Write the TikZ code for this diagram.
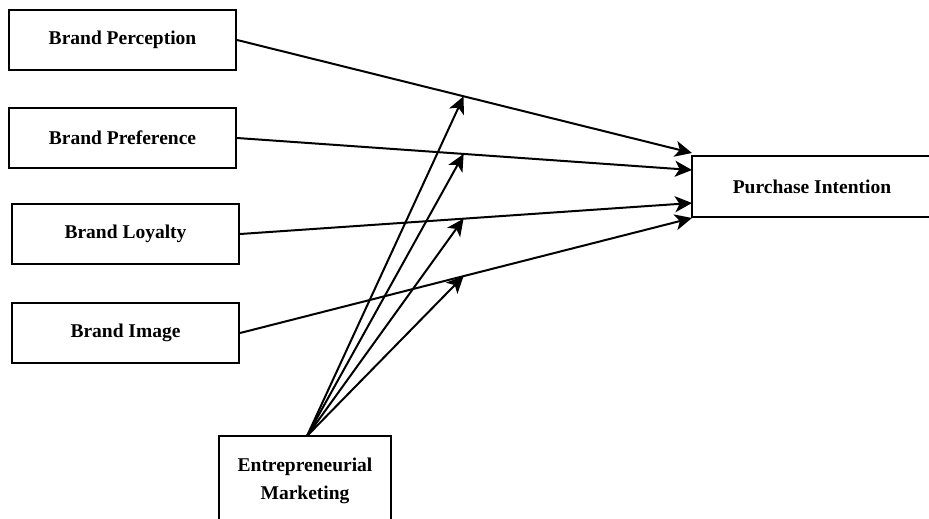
\documentclass[tikz,border=0pt]{standalone}
\usepackage{fontspec}
\setmainfont{Liberation Serif}
\usetikzlibrary{arrows.meta}
\begin{document}
\begin{tikzpicture}[x=1pt,y=-1pt,
  box/.style={draw,line width=2.2pt,inner sep=0pt,font=\fontsize{19.5}{24}\selectfont\bfseries,align=center},
  conn/.style={line width=2pt,-{Stealth[length=17pt,width=16pt,inset=4.5pt]}}]
\useasboundingbox (0,0) rectangle (929,519);
\node[box,minimum width=227pt,minimum height=60pt] (bp) at (122.5,40) {Brand Perception};
\node[box,minimum width=227pt,minimum height=60pt] (bf) at (122.5,138) {Brand Preference};
\node[box,minimum width=227pt,minimum height=60pt] (bl) at (125.5,234) {Brand Loyalty};
\node[box,minimum width=227pt,minimum height=60pt] (bi) at (125.5,333) {Brand Image};
\node[box,minimum width=240pt,minimum height=61pt] (pi) at (812,186.5) {Purchase Intention};
\node[box,minimum width=172pt,minimum height=100pt,text depth=0pt] (em) at (305,486) {};
\node[font=\fontsize{19.5}{28}\selectfont\bfseries,align=center] (emt) at (305,481) {Entrepreneurial\\Marketing};
\coordinate (t1) at (692,153);
\coordinate (t2) at (692,170);
\coordinate (t3) at (692,203);
\coordinate (t4) at (692,218);
\draw[conn] (bp.east) -- (t1) coordinate[pos=0.498] (m1);
\draw[conn] (bf.east) -- (t2) coordinate[pos=0.498] (m2);
\draw[conn] (bl.east) -- (t3) coordinate[pos=0.4945] (m3);
\draw[conn] (bi.east) -- (t4) coordinate[pos=0.4945] (m4);
\coordinate (es) at (307,436);
\draw[conn] (es) -- (m1);
\draw[conn] (es) -- (m2);
\draw[conn] (es) -- (m3);
\draw[conn] (es) -- (m4);
\end{tikzpicture}
\end{document}
